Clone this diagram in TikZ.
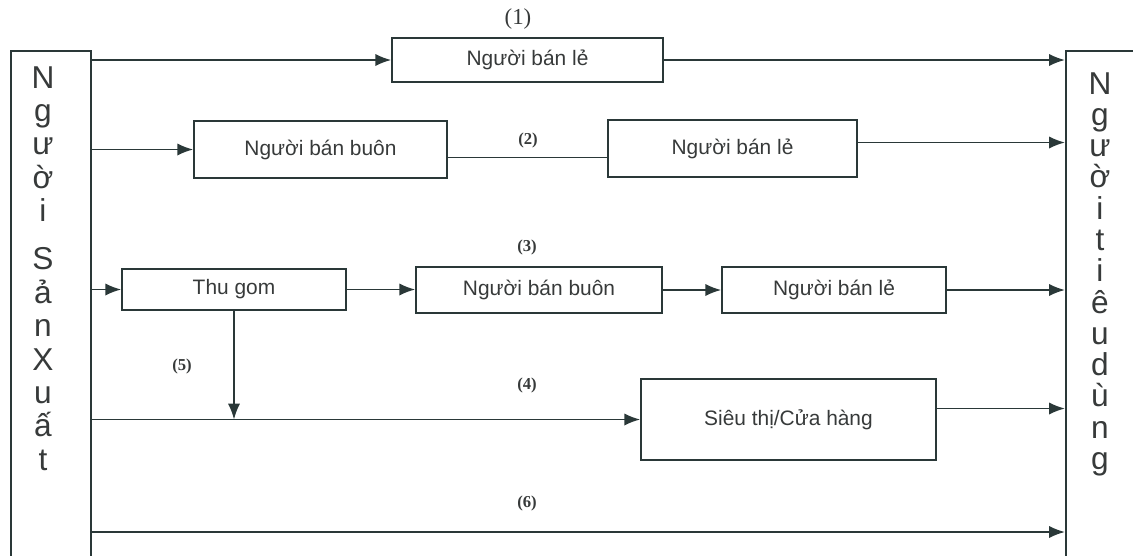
\documentclass[tikz,border=0pt]{standalone}
\usepackage{fontspec}
\setmainfont{Liberation Serif}
\setsansfont{Liberation Sans}
\usetikzlibrary{arrows.meta,positioning,calc}

\definecolor{linec}{RGB}{42,56,56}
\definecolor{textc}{RGB}{55,58,58}

\begin{document}
\begin{tikzpicture}[x=0.02cm, y=-0.02cm]
\tikzset{
  basic/.style   = {draw=linec, line width=0.9pt, rectangle, fill=white,
                    text=textc, inner sep=0pt,
                    font=\sffamily\fontsize{11.9}{14}\selectfont},
  side/.style    = {basic, anchor=north west, minimum width=1.6cm,
                    minimum height=11.6cm},
  letters/.style = {align=center, inner sep=0pt, anchor=north, text=textc,
                    font=\sffamily\fontsize{18}{19}\selectfont},
  tag/.style     = {text=textc, font=\bfseries\fontsize{9.5}{12}\selectfont},
  link/.style    = {draw=linec, line width=1.1pt},
  flow/.style    = {link, -{Latex[length=9pt,width=7pt]}}
}
\clip (0,0) rectangle (1133,555);

% the two ends of the chain
\node[side] (prod) at (10,50) {};
\node[letters] (prodtxt) at (43,66)
  {N\\g\\ư\\ờ\\i\\[8.5pt]S\\ả\\n\\X\\u\\ấ\\t};
\node[side] (cons) at (1065,50) {};
\node[letters, font=\sffamily\fontsize{18}{17.8}\selectfont] (constxt) at (1100,72)
  {N\\g\\ư\\ờ\\i\\t\\i\\ê\\u\\d\\ù\\n\\g};

% the middlemen, row by row
\node[basic, minimum width=5.42cm, minimum height=0.88cm] (retA) at (527.5,60) {Người bán lẻ};
\node[basic, minimum width=5.06cm, minimum height=1.14cm] (whB) at (320.5,149.5) {Người bán buôn};
\node[basic, minimum width=4.98cm, minimum height=1.14cm] (retB) at (732.5,148.5) {Người bán lẻ};
\node[basic, minimum width=4.48cm, minimum height=0.82cm] (coll) at (234,289.5) {Thu gom};
\node[basic, minimum width=4.92cm, minimum height=0.92cm] (whC) at (539,290) {Người bán buôn};
\node[basic, minimum width=4.48cm, minimum height=0.92cm] (retC) at (834,290) {Người bán lẻ};
\node[basic, minimum width=5.9cm, minimum height=1.62cm] (shop) at (788.5,419.5) {Siêu thị/Cửa hàng};

% channel numbers
\node[tag, font=\fontsize{13}{15}\selectfont] (n1) at (518,19) {(1)};
\node[tag] (n2) at (528,140) {(2)};
\node[tag] (n3) at (527,247) {(3)};
\node[tag] (n4) at (527,385) {(4)};
\node[tag] (n5) at (182,366) {(5)};
\node[tag] (n6) at (527,503) {(6)};

% channel 1
\draw[flow] (prod.east |- retA.west) -- (retA.west);
\draw[flow] (retA.east) -- (retA.east -| cons.west);
% channel 2
\draw[flow] (prod.east |- whB.west) -- (whB.west);
\coordinate (b2) at ([yshift=-0.16cm]whB.east);
\draw[link] (b2) -- (b2 -| retB.west);
\coordinate (c2) at ([yshift=0.12cm]retB.east);
\draw[flow] (c2) -- (c2 -| cons.west);
% channel 3
\draw[flow] (prod.east |- coll.west) -- (coll.west);
\draw[flow] (coll.east) -- (coll.east -| whC.west);
\draw[flow] (whC.east) -- (retC.west);
\draw[flow] (retC.east) -- (retC.east -| cons.west);
% channel 4 and 5
\draw[flow] (prod.east |- shop.west) -- (shop.west);
\coordinate (d4) at ([yshift=0.22cm]shop.east);
\draw[flow] (d4) -- (d4 -| cons.west);
\draw[flow] (coll.south) -- (coll.south |- shop.west);
% channel 6
\coordinate (low) at (50,532);
\draw[flow] (prod.east |- low) -- (cons.west |- low);
\end{tikzpicture}
\end{document}
